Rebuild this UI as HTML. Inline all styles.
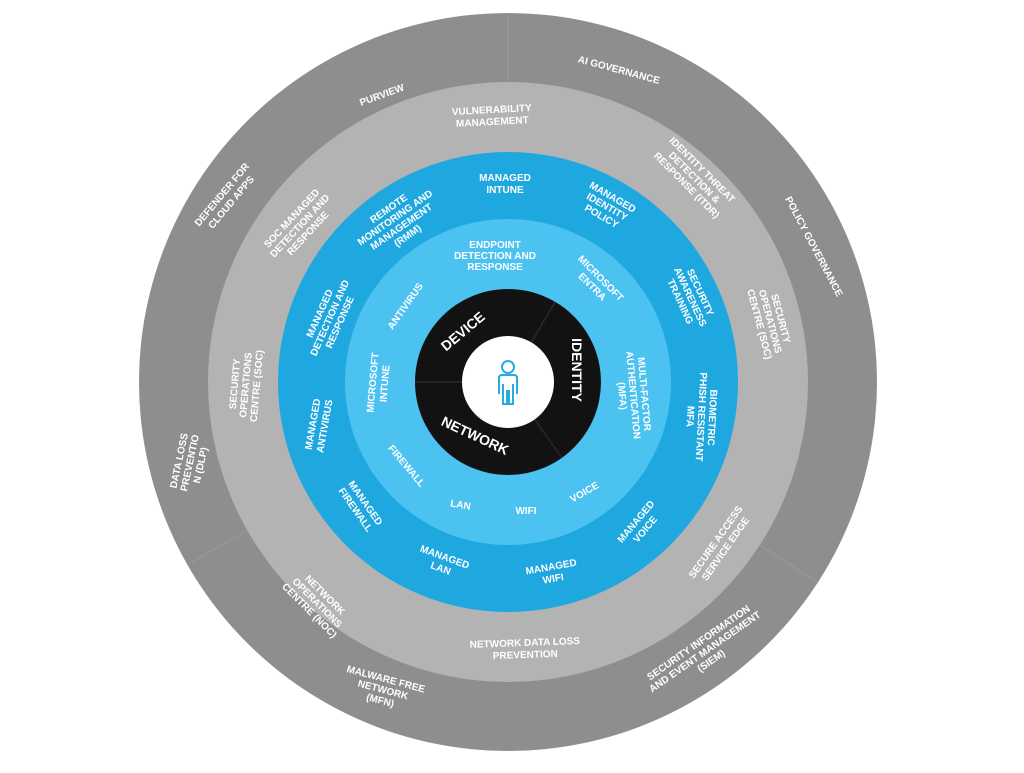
<!DOCTYPE html>
<html><head><meta charset="utf-8"><style>
html,body{margin:0;padding:0;background:#fff;}
svg text{font-family:"Liberation Sans",sans-serif;font-weight:bold;fill:#fff;text-anchor:middle;}
</style></head><body>
<svg width="1024" height="768" viewBox="0 0 1024 768" xmlns="http://www.w3.org/2000/svg">
<circle cx="508" cy="382" r="369" fill="#8e8e8e"/>
<g stroke="#999" stroke-width="1.2">
<line x1="508" y1="13" x2="508" y2="82"/>
<line x1="760" y1="545" x2="818" y2="583"/>
<line x1="252" y1="528" x2="192" y2="562"/>
</g>
<circle cx="508" cy="382" r="300" fill="#b3b3b3"/>
<circle cx="508" cy="382" r="230" fill="#1fa8e0"/>
<circle cx="508" cy="382" r="163" fill="#4cc2f1"/>
<circle cx="508" cy="382" r="93" fill="#121212"/>
<g stroke="#2a2a2a" stroke-width="1.5">
<line x1="508" y1="382" x2="555" y2="302"/>
<line x1="508" y1="382" x2="415" y2="382"/>
<line x1="508" y1="382" x2="562" y2="458"/>
</g>
<circle cx="508" cy="382" r="46" fill="#fff"/>
<g fill="none" stroke="#29aae1" stroke-width="2">
<circle cx="508" cy="367" r="6"/>
<path d="M499 394 L499 378 Q499 375 502 375 L514 375 Q517 375 517 378 L517 394 M503 384 L503 404 L507 404 L507 390 M509 390 L509 404 L513 404 L513 384"/>
</g>
<g font-size="14">
<text transform="translate(466,335) rotate(-40)">DEVICE</text>
<text transform="translate(572,370) rotate(90)">IDENTITY</text>
<text transform="translate(473,440) rotate(25)">NETWORK</text>
</g>
<g font-size="10">
<!-- outer -->
<text transform="translate(383,98) rotate(-20)">PURVIEW</text>
<text transform="translate(618,73) rotate(15)">AI GOVERNANCE</text>
<text transform="translate(811,248) rotate(62)">POLICY GOVERNANCE</text>
<text transform="translate(226,198) rotate(-50)"><tspan x="0" y="-2">DEFENDER FOR</tspan><tspan x="0" y="10">CLOUD APPS</tspan></text>
<text transform="translate(190,463) rotate(-78)"><tspan x="0" y="-8">DATA LOSS</tspan><tspan x="0" y="3">PREVENTIO</tspan><tspan x="0" y="14">N (DLP)</tspan></text>
<text transform="translate(383,690) rotate(15)"><tspan x="0" y="-8">MALWARE FREE</tspan><tspan x="0" y="3">NETWORK</tspan><tspan x="0" y="14">(MFN)</tspan></text>
<text transform="translate(705,652) rotate(-35)"><tspan x="0" y="-8">SECURITY INFORMATION</tspan><tspan x="0" y="3">AND EVENT MANAGEMENT</tspan><tspan x="0" y="14">(SIEM)</tspan></text>
<!-- light grey -->
<text transform="translate(492,115) rotate(-3)"><tspan x="0" y="-2">VULNERABILITY</tspan><tspan x="0" y="10">MANAGEMENT</tspan></text>
<text transform="translate(690,182) rotate(45)"><tspan x="0" y="-14">IDENTITY THREAT</tspan><tspan x="0" y="-3">DETECTION &amp;</tspan><tspan x="0" y="8">RESPONSE (ITDR)</tspan></text>
<text transform="translate(768,322) rotate(75)"><tspan x="0" y="-10">SECURITY</tspan><tspan x="0" y="1">OPERATIONS</tspan><tspan x="0" y="12">CENTRE (SOC)</tspan></text>
<text transform="translate(720,545) rotate(-55)"><tspan x="0" y="-2">SECURE ACCESS</tspan><tspan x="0" y="10">SERVICE EDGE</tspan></text>
<text transform="translate(525,648) rotate(-2)"><tspan x="0" y="-2">NETWORK DATA LOSS</tspan><tspan x="0" y="10">PREVENTION</tspan></text>
<text transform="translate(317,603) rotate(45)"><tspan x="0" y="-8">NETWORK</tspan><tspan x="0" y="3">OPERATIONS</tspan><tspan x="0" y="14">CENTRE (NOC)</tspan></text>
<text transform="translate(246,385) rotate(-85)"><tspan x="0" y="-8">SECURITY</tspan><tspan x="0" y="3">OPERATIONS</tspan><tspan x="0" y="14">CENTRE (SOC)</tspan></text>
<text transform="translate(300,226) rotate(-47)"><tspan x="0" y="-8">SOC MANAGED</tspan><tspan x="0" y="3">DETECTION AND</tspan><tspan x="0" y="14">RESPONSE</tspan></text>
<!-- blue -->
<text transform="translate(505,183)"><tspan x="0" y="-2">MANAGED</tspan><tspan x="0" y="10">INTUNE</tspan></text>
<text transform="translate(607,207) rotate(30)"><tspan x="0" y="-8">MANAGED</tspan><tspan x="0" y="3">IDENTITY</tspan><tspan x="0" y="14">POLICY</tspan></text>
<text transform="translate(690,297) rotate(65)"><tspan x="0" y="-8">SECURITY</tspan><tspan x="0" y="3">AWARENESS</tspan><tspan x="0" y="14">TRAINING</tspan></text>
<text transform="translate(701,417) rotate(93)"><tspan x="0" y="-8">BIOMETRIC</tspan><tspan x="0" y="3">PHISH RESISTANT</tspan><tspan x="0" y="14">MFA</tspan></text>
<text transform="translate(640,525) rotate(-50)"><tspan x="0" y="-2">MANAGED</tspan><tspan x="0" y="10">VOICE</tspan></text>
<text transform="translate(552,572) rotate(-10)"><tspan x="0" y="-2">MANAGED</tspan><tspan x="0" y="10">WIFI</tspan></text>
<text transform="translate(443,562) rotate(20)"><tspan x="0" y="-2">MANAGED</tspan><tspan x="0" y="10">LAN</tspan></text>
<text transform="translate(361,506) rotate(55)"><tspan x="0" y="-2">MANAGED</tspan><tspan x="0" y="10">FIREWALL</tspan></text>
<text transform="translate(318,425) rotate(-80)"><tspan x="0" y="-2">MANAGED</tspan><tspan x="0" y="10">ANTIVIRUS</tspan></text>
<text transform="translate(330,318) rotate(-66)"><tspan x="0" y="-8">MANAGED</tspan><tspan x="0" y="3">DETECTION AND</tspan><tspan x="0" y="14">RESPONSE</tspan></text>
<text transform="translate(398,222) rotate(-35)"><tspan x="0" y="-13">REMOTE</tspan><tspan x="0" y="-2">MONITORING AND</tspan><tspan x="0" y="9">MANAGEMENT</tspan><tspan x="0" y="20">(RMM)</tspan></text>
<!-- light blue -->
<text transform="translate(495,256)"><tspan x="0" y="-8">ENDPOINT</tspan><tspan x="0" y="3">DETECTION AND</tspan><tspan x="0" y="14">RESPONSE</tspan></text>
<text transform="translate(597,282) rotate(45)"><tspan x="0" y="-2">MICROSOFT</tspan><tspan x="0" y="10">ENTRA</tspan></text>
<text transform="translate(633,395) rotate(85)"><tspan x="0" y="-8">MULTI-FACTOR</tspan><tspan x="0" y="3">AUTHENTICATION</tspan><tspan x="0" y="14">(MFA)</tspan></text>
<text transform="translate(586,495) rotate(-30)">VOICE</text>
<text transform="translate(526,514)">WIFI</text>
<text transform="translate(460,508) rotate(10)">LAN</text>
<text transform="translate(404,468) rotate(50)">FIREWALL</text>
<text transform="translate(378,383) rotate(-85)"><tspan x="0" y="-2">MICROSOFT</tspan><tspan x="0" y="10">INTUNE</tspan></text>
<text transform="translate(408,308) rotate(-55)">ANTIVIRUS</text>
</g>
</svg>
</body></html>
